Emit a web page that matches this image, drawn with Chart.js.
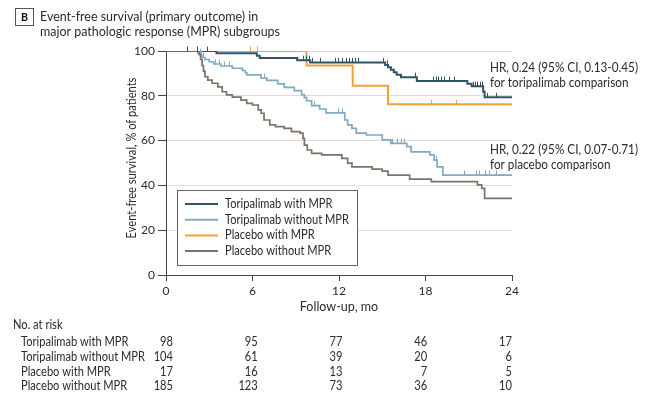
<!DOCTYPE html>
<html>
<head>
<meta charset="utf-8">
<script src="https://cdn.jsdelivr.net/npm/chart.js@4.4.1/dist/chart.umd.min.js"></script>
<style>
  html, body { margin: 0; padding: 0; background: #fff; }
  canvas { display: block; }
</style>
</head>
<body>
<canvas id="km" width="660" height="407"></canvas>
<script>
// --- data (months, % event-free) ---
const seriesNames = ['Toripalimab with MPR', 'Toripalimab without MPR', 'Placebo with MPR', 'Placebo without MPR'];
const seriesColors = ['#2d5566', '#80a9c4', '#f2a134', '#7e7166'];

const toriMprT = [0, 3.5, 6.3, 6.5, 9.1, 10.0, 15.2, 15.4, 15.6, 15.8, 16.0, 16.3, 17.4, 20.9, 21.2, 22.0, 22.1, 24];
const toriMprS = [100, 99.0, 97.9, 96.9, 95.9, 94.9, 93.8, 92.7, 91.6, 90.5, 89.4, 88.3, 86.6, 85.4, 84.3, 81.8, 79.3, 79.3];
const toriMprCens = [1.45, 2.15, 2.85, 9.5, 9.7, 9.9, 10.1, 10.7, 11.7, 11.9, 12.2, 12.5, 12.7, 12.9, 13.1, 13.3,
  15.05, 15.3, 17.3, 18.5, 18.7, 18.9, 19.1, 19.3, 19.6, 20.0, 21.3, 21.45, 21.6, 21.75, 21.9, 22.3, 22.9];

const toriNoT = [0, 2.2, 2.4, 2.5, 2.7, 3.0, 3.3, 3.8, 4.6, 5.3, 5.5, 5.6, 6.6, 7.0, 7.75, 8.2, 8.9, 9.4, 9.6, 9.75,
  10.1, 10.66, 11.1, 12.4, 12.6, 12.9, 13.2, 13.9, 15.0, 15.6, 16.7, 17.0, 18.3, 18.6, 18.8, 19.2, 24];
const toriNoS = [100, 99.0, 98.1, 97.1, 96.2, 95.2, 94.2, 93.3, 92.3, 91.3, 90.3, 89.3, 87.9, 86.9, 85.3, 83.8, 82.3, 80.5, 79.2, 77.8,
  75.6, 74.1, 72.4, 69.2, 67.0, 65.5, 63.3, 62.5, 60.3, 58.8, 57.3, 55.0, 53.6, 51.3, 48.3, 44.6, 44.6];
const toriNoCens = [2.35, 2.45, 2.6, 3.4, 3.7, 4.0, 4.4, 6.8, 10.3, 11.9, 12.2, 15.7, 16.0, 16.3, 16.5, 18.7,
  20.7, 21.5, 21.7, 22.1, 22.4, 22.9];

const placMprT = [0, 9.75, 12.95, 15.4, 24];
const placMprS = [100, 93.5, 84.5, 76.2, 76.2];
const placMprCens = [5.8, 6.3, 18.4, 20.1];

const placNoT = [0, 2.3, 2.4, 2.5, 2.6, 2.7, 2.9, 3.2, 3.6, 3.9, 4.2, 4.6, 5.2, 5.6, 6.0, 6.4, 6.6, 6.8, 7.2, 7.6,
  8.2, 8.7, 9.3, 9.5, 9.6, 9.8, 10.1, 10.8, 12.2, 12.6, 12.9, 14.3, 15.0, 15.4, 16.9, 18.4, 21.6, 21.9, 22.1, 24];
const placNoS = [100, 98.4, 96.2, 93.5, 91.0, 88.5, 87.0, 85.6, 84.0, 81.8, 80.4, 79.4, 78.1, 76.6, 75.9, 73.7, 72.2, 69.2, 67.0, 66.2,
  65.5, 64.0, 63.3, 61.0, 58.0, 55.8, 54.3, 53.6, 52.1, 49.9, 48.3, 47.3, 46.4, 44.6, 42.8, 41.7, 40.2, 38.7, 34.2, 34.2];
const placNoCens = [];

const xTicks = [0, 6, 12, 18, 24];
const yTicks = [0, 20, 40, 60, 80, 100];
const riskToriMpr = [98, 95, 77, 46, 17];
const riskToriNo = [104, 61, 39, 20, 6];
const riskPlacMpr = [17, 16, 13, 7, 5];
const riskPlacNo = [185, 123, 73, 36, 10];

const hrText = [
  ['HR, 0.24 (95% CI, 0.13-0.45)', 'for toripalimab comparison'],
  ['HR, 0.22 (95% CI, 0.07-0.71)', 'for placebo comparison']
];

const FONT = 'Lato, "Liberation Sans", sans-serif';
const TXT = '#2b2b2b';
const SQUEEZE = 0.89; // the original face is a narrow one

const curves = [
  { t: toriMprT, s: toriMprS, cens: toriMprCens, risk: riskToriMpr },
  { t: toriNoT, s: toriNoS, cens: toriNoCens, risk: riskToriNo },
  { t: placMprT, s: placMprS, cens: placMprCens, risk: riskPlacMpr },
  { t: placNoT, s: placNoS, cens: placNoCens, risk: riskPlacNo }
];

function stepAt(t, s, v) {
  let out = s[0];
  for (let i = 0; i < t.length; i++) if (t[i] <= v) out = s[i];
  return out;
}

// narrow text helper
function txt(ctx, str, x, y, opts = {}) {
  ctx.save();
  ctx.translate(x, y);
  if (opts.rotate) ctx.rotate(opts.rotate);
  ctx.scale(SQUEEZE, 1);
  ctx.font = (opts.weight || '') + ' ' + (opts.size || 12.5) + 'px ' + FONT;
  ctx.fillStyle = opts.color || TXT;
  ctx.textAlign = opts.align || 'left';
  ctx.textBaseline = 'middle';
  ctx.fillText(str, 0, 0);
  ctx.restore();
}

const drawOrder = [1, 2, 3, 0]; // orange on top, then dark, light, brown

const extras = {
  id: 'extras',
  afterDatasetsDraw(chart) {
    const { ctx, scales: { x, y } } = chart;
    ctx.save();
    curves.forEach((c, i) => {
      ctx.strokeStyle = seriesColors[i];
      ctx.lineWidth = 1;
      c.cens.forEach(v => {
        const px = Math.round(x.getPixelForValue(v)) + 0.5;
        const py = y.getPixelForValue(stepAt(c.t, c.s, v));
        ctx.beginPath();
        ctx.moveTo(px, py + 0.5);
        ctx.lineTo(px, py - 4.5);
        ctx.stroke();
      });
    });
    ctx.restore();
  },
  afterDraw(chart) {
    const { ctx, chartArea, scales: { x } } = chart;
    ctx.save();

    // panel header
    ctx.strokeStyle = '#555';
    ctx.lineWidth = 1;
    ctx.strokeRect(15.5, 8.5, 18, 17);
    txt(ctx, 'B', 24.5, 17.5, { weight: 'bold', size: 12, align: 'center', color: '#111' });
    txt(ctx, 'Event-free survival (primary outcome) in', 40, 16, { size: 14 });
    txt(ctx, 'major pathologic response (MPR) subgroups', 40, 31, { size: 14 });

    // y axis title
    txt(ctx, 'Event-free survival, % of patients', 132, 158, { align: 'center', rotate: -Math.PI / 2 });

    // legend box
    const lx = chartArea.left + 11, ly = 190;
    ctx.fillStyle = '#fff';
    ctx.fillRect(lx, ly, 180, 75);
    ctx.strokeStyle = '#666';
    ctx.lineWidth = 1;
    ctx.strokeRect(lx + 0.5, ly + 0.5, 180, 75);
    seriesNames.forEach((name, i) => {
      const ry = ly + 14 + i * 15.7;
      ctx.strokeStyle = seriesColors[i];
      ctx.lineWidth = 2;
      ctx.beginPath();
      ctx.moveTo(lx + 8, ry);
      ctx.lineTo(lx + 41, ry);
      ctx.stroke();
      txt(ctx, name, lx + 48, ry);
    });

    // HR annotations
    txt(ctx, hrText[0][0], 490, 68, { size: 13.2 });
    txt(ctx, hrText[0][1], 490, 83, { size: 13.2 });
    txt(ctx, hrText[1][0], 490, 150, { size: 13.2 });
    txt(ctx, hrText[1][1], 490, 165, { size: 13.2 });

    // number at risk table
    txt(ctx, 'No. at risk', 13, 325);
    curves.forEach((c, i) => {
      const ry = 342 + i * 14.8;
      txt(ctx, seriesNames[i], 21, ry);
      xTicks.forEach((t, j) => {
        txt(ctx, String(c.risk[j]), x.getPixelForValue(t) + 7 * (1 - t / 24), ry, { align: 'right' });
      });
    });
    ctx.restore();
  }
};

new Chart(document.getElementById('km'), {
  type: 'line',
  data: {
    datasets: curves.map((c, i) => ({
      label: seriesNames[i],
      data: c.t.map((t, k) => ({ x: t, y: c.s[k] })),
      borderColor: seriesColors[i],
      backgroundColor: seriesColors[i],
      borderWidth: i % 2 === 0 ? 2 : 1.7,
      stepped: true,
      pointRadius: 0,
      fill: false,
      order: drawOrder[i]
    }))
  },
  options: {
    responsive: false,
    animation: false,
    events: [],
    layout: { padding: { left: 121, right: 148, top: 51, bottom: 88 } },
    plugins: { legend: { display: false }, tooltip: { enabled: false } },
    scales: {
      x: {
        type: 'linear',
        min: 0, max: 24,
        afterFit: s => { s.height = 44; },
        afterBuildTicks: s => { s.ticks = xTicks.map(v => ({ value: v })); },
        grid: { drawOnChartArea: false, tickLength: 6, tickColor: '#444' },
        border: { color: '#444', width: 1 },
        ticks: { color: TXT, font: { family: FONT, size: 12 }, padding: 3, maxRotation: 0 },
        title: { display: true, text: 'Follow-up, mo', color: TXT, font: { family: FONT, size: 12.5 }, padding: { top: 0, bottom: 5 } }
      },
      y: {
        type: 'linear',
        min: 0, max: 100,
        afterFit: s => { s.width = 45; },
        afterBuildTicks: s => { s.ticks = yTicks.map(v => ({ value: v })); },
        grid: { color: '#dcdcdc', tickLength: 8, tickColor: '#444', lineWidth: 1 },
        border: { color: '#444', width: 1 },
        ticks: { color: TXT, font: { family: FONT, size: 12 }, padding: 3 },
        title: { display: false }
      }
    }
  },
  plugins: [extras]
});
</script>
</body>
</html>
